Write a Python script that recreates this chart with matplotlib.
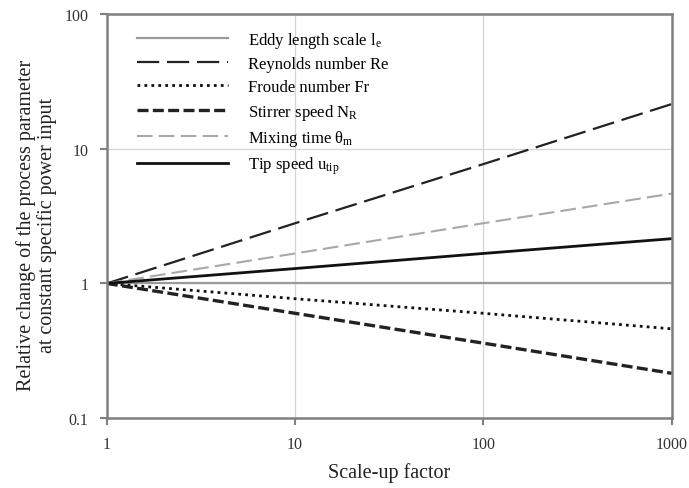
import matplotlib
matplotlib.use('Agg')
import matplotlib.pyplot as plt
from matplotlib.ticker import FixedLocator, FixedFormatter, NullLocator

plt.rcParams['font.family'] = ['Liberation Serif', 'DejaVu Serif']
plt.rcParams['mathtext.fontset'] = 'custom'
plt.rcParams['mathtext.rm'] = 'Liberation Serif'
plt.rcParams['mathtext.it'] = 'Liberation Serif:italic'

scale_up = [1, 10, 100, 1000]
eddy = [1, 1, 1, 1]
reynolds = [1, 2.8, 7.7, 21.5]
froude = [1, 0.77, 0.6, 0.46]
stirrer = [1, 0.6, 0.36, 0.215]
mixing = [1, 1.67, 2.8, 4.65]
tip = [1, 1.29, 1.67, 2.15]

labels = ['Eddy length scale l$_\\mathrm{e}$', 'Reynolds number Re', 'Froude number Fr',
          'Stirrer speed N$_\\mathrm{R}$', 'Mixing time \u03b8$_\\mathrm{m}$',
          'Tip speed u$_\\mathrm{tip}$']

fig = plt.figure(figsize=(6.89, 4.89), dpi=100)
ax = fig.add_axes([0.155, 0.143, 0.82, 0.826])

ax.plot(scale_up, eddy, color='#9a9a9a', lw=1.6, label=labels[0])
ax.plot(scale_up, reynolds, color='#222222', lw=1.6, dashes=(10, 3.5), label=labels[1])
ax.plot(scale_up, froude, color='#111111', lw=2.0, dashes=(1, 1.5), label=labels[2])
ax.plot(scale_up, stirrer, color='#222222', lw=2.4, dashes=(3.3, 1.3), label=labels[3])
ax.plot(scale_up, mixing, color='#a8a8a8', lw=1.5, dashes=(7.5, 3), label=labels[4])
ax.plot(scale_up, tip, color='#111111', lw=2.0, label=labels[5])

ax.set_xscale('log')
ax.set_yscale('log')
ax.set_xlim(1, 1000)
ax.set_ylim(0.1, 100)

ax.xaxis.set_major_locator(FixedLocator([1, 10, 100, 1000]))
ax.xaxis.set_major_formatter(FixedFormatter(['1', '10', '100', '1000']))
ax.yaxis.set_major_locator(FixedLocator([0.1, 1, 10, 100]))
ax.yaxis.set_major_formatter(FixedFormatter(['0.1', '1', '10', '100']))
ax.xaxis.set_minor_locator(NullLocator())
ax.yaxis.set_minor_locator(NullLocator())

ax.grid(True, color='#d4d4d4', lw=0.9)
for s in ax.spines.values():
    s.set_color('#808080')
    s.set_linewidth(1.8)
ax.tick_params(direction='out', length=5, width=1.5, color='#808080',
               labelsize=11.5, labelcolor='#333333', pad=8)

ax.set_xlabel('Scale-up factor', fontsize=14.5, labelpad=7, color='#222222')
ax.set_ylabel('Relative change of the process parameter\nat constant specific power input',
              fontsize=14.5, color='#222222', linespacing=1.05)
ax.yaxis.set_label_coords(-0.088, 0.48)

ax.legend(loc='upper left', bbox_to_anchor=(0.053, 0.962), frameon=False, fontsize=12,
          borderpad=0, borderaxespad=0,
          handlelength=5.5, handletextpad=1.2, labelspacing=0.4)

fig.savefig('out.png', dpi=100)
